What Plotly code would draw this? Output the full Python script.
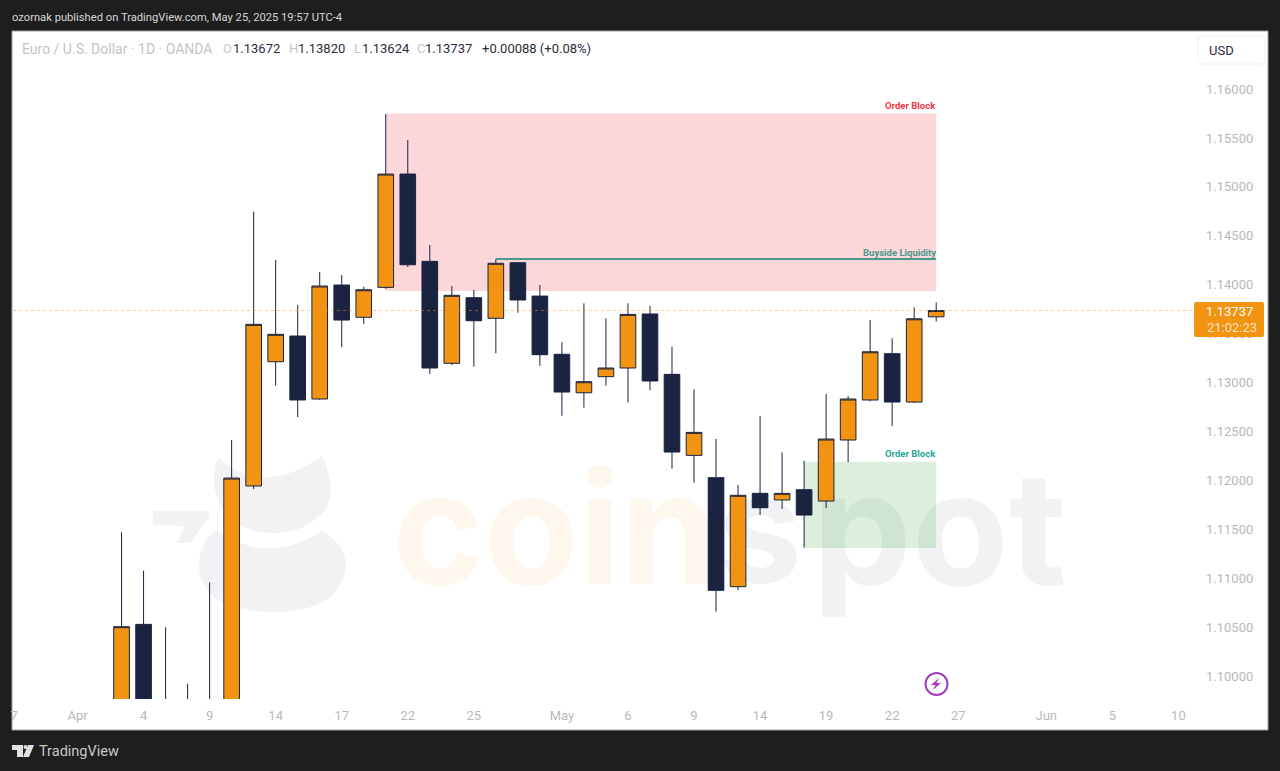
import plotly.graph_objects as go

# ---- data -------------------------------------------------------------
sessions = ["Apr 3","Apr 4","Apr 7","Apr 8","Apr 9","Apr 10","Apr 11","Apr 14","Apr 15","Apr 16",
            "Apr 17","Apr 18","Apr 21","Apr 22","Apr 23","Apr 24","Apr 25","Apr 28","Apr 29","Apr 30",
            "May 1","May 2","May 5","May 6","May 7","May 8","May 9","May 12","May 13","May 14",
            "May 15","May 16","May 19","May 20","May 21","May 22","May 23","May 26"]
opens  = [1.0851,1.10529,1.0960,1.0905,1.0960,1.0950,1.11943,1.13213,1.13476,1.12832,
          1.13997,1.13667,1.13973,1.15131,1.14239,1.13197,1.13867,1.13657,1.14225,1.13884,
          1.13289,1.12896,1.1306,1.13149,1.13701,1.13084,1.12256,1.12028,1.10914,1.11868,
          1.118,1.11905,1.11789,1.12413,1.12822,1.13295,1.12801,1.13672]
highs  = [1.1147,1.11077,1.10499,1.09922,1.10958,1.12413,1.14746,1.14252,1.13792,1.1413,
          1.14099,1.1398,1.15744,1.15479,1.14406,1.13987,1.13946,1.14263,1.14232,1.13997,
          1.13411,1.1381,1.13657,1.1381,1.13785,1.13366,1.12931,1.12423,1.11953,1.12658,
          1.12287,1.12201,1.12883,1.12862,1.13639,1.13452,1.13769,1.13820]
lows   = [1.0833,1.0880,1.0880,1.0888,1.0890,1.0945,1.11912,1.12968,1.12648,1.12822,
          1.13363,1.13598,1.13956,1.14181,1.13087,1.13179,1.13162,1.13299,1.13714,1.13172,
          1.12661,1.12743,1.12968,1.12798,1.12921,1.1212,1.11976,1.10658,1.1088,1.11646,
          1.11708,1.11312,1.11718,1.12188,1.12808,1.12556,1.12791,1.13624]
closes = [1.10505,1.0958,1.0905,1.0960,1.0950,1.12024,1.13595,1.13493,1.12822,1.13987,
          1.13639,1.13949,1.15131,1.14204,1.13149,1.13892,1.13632,1.14219,1.13844,1.13285,
          1.12903,1.13009,1.13149,1.13697,1.13016,1.1229,1.12491,1.10877,1.11848,1.11721,
          1.11868,1.11646,1.12423,1.12832,1.13315,1.12801,1.13652,1.13737]

y_ticks = [1.10,1.105,1.11,1.115,1.12,1.125,1.13,1.135,1.14,1.145,1.15,1.155,1.16]
x_tick_pos = [-4.88,-2,1,4,7,10,13,16,20,23,26,29,32,35,38,42,45,48]
x_tick_lab = ["7","Apr","4","9","14","17","22","25","May","6","9","14","19","22","27","Jun","5","10"]

last_price = 1.13737
ob_red = (12, 37, 1.13936, 1.15750)
ob_green = (31, 37, 1.11310, 1.12190)
liq_x = [17, 37]
liq_y = [1.14263, 1.14263]

header_txt = ["Euro / U.S. Dollar · 1D · OANDA","O","1.13672","H","1.13820","L","1.13624","C","1.13737","+0.00088 (+0.08%)"]
header_x   = [21,222,232,288,297,353,361,416,424,481]
header_col = ["#c4c4c4","#c4c4c4","#2a2e39","#c4c4c4","#2a2e39","#c4c4c4","#2a2e39","#c4c4c4","#2a2e39","#2a2e39"]
header_sz  = [14,13,13,13,13,13,13,13,13,13]

# ---- layout helpers -----------------------------------------------------
W, H = 1280, 771
L, R, T, B = 13, 1198, 32, 699
FONT = "Roboto"
NAVY, ORANGE = "#1a2340", "#f39312"
DARK = "#1e1e1e"
px = lambda x: (x - L) / (R - L)
py = lambda y: (B - y) / (B - T)
def path(*pts):
    out = []
    for p in pts:
        if isinstance(p, str):
            out.append(p)
        else:
            out.append(f"{px(p[0]):.5f},{py(p[1]):.5f}")
    return " ".join(out)
def pshape(d, fill, **kw):
    return dict(type="path", xref="paper", yref="paper", path=d, fillcolor=fill, line=dict(width=0), **kw)
def prect(x0, y0, x1, y1, fill, line=None, lw=0, layer="below"):
    return dict(type="rect", xref="paper", yref="paper", x0=px(x0), x1=px(x1), y0=py(y0), y1=py(y1),
                fillcolor=fill, line=dict(color=line or fill, width=lw), layer=layer)
def note(x, y, text, size, color, anchor="left", family=FONT, **kw):
    return dict(xref="paper", yref="paper", x=px(x), y=py(y), text=text, showarrow=False, xanchor=anchor,
                yanchor="middle", borderpad=0, font=dict(family=family, size=size, color=color), **kw)
def word(x0, x1, text, size, color):
    return dict(type="rect", xref="paper", yref="paper", x0=px(x0), x1=px(x1), y0=py(608), y1=py(436),
                fillcolor="rgba(0,0,0,0)", line=dict(width=0), layer="below",
                label=dict(text=f"<b>{text}</b>", font=dict(family="Inter", size=size, color=color),
                           textposition="middle center"))

wm_gray, wm_orange = "#f2f2f5", "#fef7ee"
shapes = [
    prect(12, 31, 1268, 730, "#ffffff", "#a0a0a0", 1),
    # watermark emblem
    pshape(path("M",(218,457),"Q",(262,498),(322,456),"Q",(338,490),(325,510),"Q",(305,533),(275,533),
                "Q",(235,533),(220,505),"Q",(209,480),(218,457),"Z"), wm_gray, layer="below"),
    pshape(path("M",(216,530),"Q",(268,566),(322,531),"Q",(346,545),(346,565),"Q",(342,612),(272,612),
                "Q",(199,610),(199,565),"Q",(199,543),(216,530),"Z"), wm_gray, layer="below"),
    pshape(path("M",(153,511),"L",(209,511),"L",(209,517),"L",(190,543),"L",(177,543),"L",(185,526),
                "L",(153,525),"Z"), wm_gray, layer="below"),
    # watermark wordmark
    word(384, 726, "coin", 155, wm_orange),
    word(720, 800, "s", 150, wm_gray),
    word(803, 1076, "pot", 158, wm_gray),
    # zones
    dict(type="rect", x0=ob_red[0], x1=ob_red[1], y0=ob_red[2], y1=ob_red[3],
         fillcolor="rgba(242,54,69,0.2)", line=dict(width=0), layer="below"),
    dict(type="rect", x0=ob_green[0], x1=ob_green[1], y0=ob_green[2], y1=ob_green[3],
         fillcolor="rgba(76,175,80,0.2)", line=dict(width=0), layer="below"),
    # last price line
    dict(type="line", xref="paper", x0=0, x1=1, y0=last_price, y1=last_price,
         line=dict(color="rgba(243,147,18,0.5)", width=1, dash="dot"), layer="above"),
    # price tag
    dict(type="path", xref="paper", yref="paper", layer="above", fillcolor=ORANGE, line=dict(width=0),
         path=path("M",(1196,302),"L",(1262,302),"Q",(1264,302),(1264,304),"L",(1264,335),"Q",(1264,337),(1262,337),
                   "L",(1196,337),"Q",(1194,337),(1194,335),"L",(1194,304),"Q",(1194,302),(1196,302),"Z")),
    # currency box
    dict(type="path", xref="paper", yref="paper", layer="above", fillcolor="#ffffff",
         line=dict(color="#f0f0f0", width=1),
         path=path("M",(1202,36),"L",(1261,36),"Q",(1265,36),(1265,40),"L",(1265,60),"Q",(1265,64),(1261,64),
                   "L",(1202,64),"Q",(1198,64),(1198,60),"L",(1198,40),"Q",(1198,36),(1202,36),"Z")),
    # lightning badge
    dict(type="circle", xref="paper", yref="paper", x0=px(925.5), x1=px(947.5), y0=py(673), y1=py(695),
         fillcolor="#ffffff", line=dict(color="#a53cc0", width=2), layer="above"),
    pshape(path("M",(939,678),"L",(931,685),"L",(935.5,685),"L",(933,690),"L",(941,683),"L",(936.5,683),"Z"),
           "#a53cc0", layer="above"),
    # TradingView mark
    pshape(path("M",(12,745),"L",(23,745),"L",(23,757),"L",(17,757),"L",(17,750),"L",(12,750),"Z"), "#e0e0e0", layer="above"),
    pshape(path("M",(28,745),"L",(34,745),"L",(29,757),"L",(23,757),"Z"), "#e0e0e0", layer="above"),
    dict(type="circle", xref="paper", yref="paper", x0=px(23.5), x1=px(27.5), y0=py(745), y1=py(749),
         fillcolor="#e0e0e0", line=dict(width=0), layer="above"),
]

def zone_label(y, shift, text, color):
    return dict(x=37, y=y, xref="x", yref="y", yshift=shift, xshift=1, text=f"<b>{text}</b>", showarrow=False,
                xanchor="right", yanchor="middle", borderpad=0, font=dict(family=FONT, size=9.5, color=color))

annotations = [
    note(11, 17, "ozornak published on TradingView.com, May 25, 2025 19:57 UTC-4", 11.2, "#d6d6d6"),
    note(38, 751, "TradingView", 14.5, "#c8c8c8"),
    note(1229, 311, "1.13737", 13, "#ffffff", "center"),
    note(1232, 328, "21:02:23", 13, "#fde3bf", "center"),
    note(1208, 50, "USD", 13, "#2a2e39"),
    zone_label(ob_red[3], 8, "Order Block", "#f23645"),
    zone_label(liq_y[0], 7, "Buyside Liquidity", "#4a9a8a"),
    zone_label(ob_green[3], 8, "Order Block", "#26a69a"),
]
for t, x, c, s in zip(header_txt, header_x, header_col, header_sz):
    annotations.append(note(x, 49, t, s, c))

fig = go.Figure()
fig.add_trace(go.Candlestick(
    x=list(range(len(sessions))), open=opens, high=highs, low=lows, close=closes,
    text=sessions, whiskerwidth=0,
    increasing=dict(line=dict(color=NAVY, width=1), fillcolor=ORANGE),
    decreasing=dict(line=dict(color=NAVY, width=1), fillcolor=NAVY),
    showlegend=False, hoverinfo="skip"))
fig.add_trace(go.Scatter(x=liq_x, y=liq_y, mode="lines", line=dict(color="#4a9a8a", width=2),
                         showlegend=False, hoverinfo="skip"))

fig.update_layout(
    width=W, height=H, autosize=False,
    margin=dict(l=L, r=W - R, t=T, b=H - B, pad=0, autoexpand=False),
    paper_bgcolor=DARK, plot_bgcolor="rgba(0,0,0,0)",
    boxgap=0.29, boxgroupgap=0, hovermode=False, showlegend=False,
    shapes=shapes, annotations=annotations,
    font=dict(family=FONT),
    xaxis=dict(range=[-4.93, 48.89], tickmode="array", tickvals=x_tick_pos, ticktext=x_tick_lab,
               rangeslider=dict(visible=False), showgrid=False, zeroline=False, showline=False, ticks="",
               ticklabelstandoff=7, tickfont=dict(family=FONT, size=13, color="#b8b8b8")),
    yaxis=dict(range=[1.09766, 1.16583], side="right", tickmode="array", tickvals=y_ticks, tickformat=".5f",
               showgrid=False, zeroline=False, showline=False, ticks="", ticklabelstandoff=7,
               tickfont=dict(family=FONT, size=13, color="#b8b8b8")),
)
fig.write_html("out.html", config={"displayModeBar": False},
               post_script="document.body.style.margin='0';document.body.style.overflow='hidden';")
